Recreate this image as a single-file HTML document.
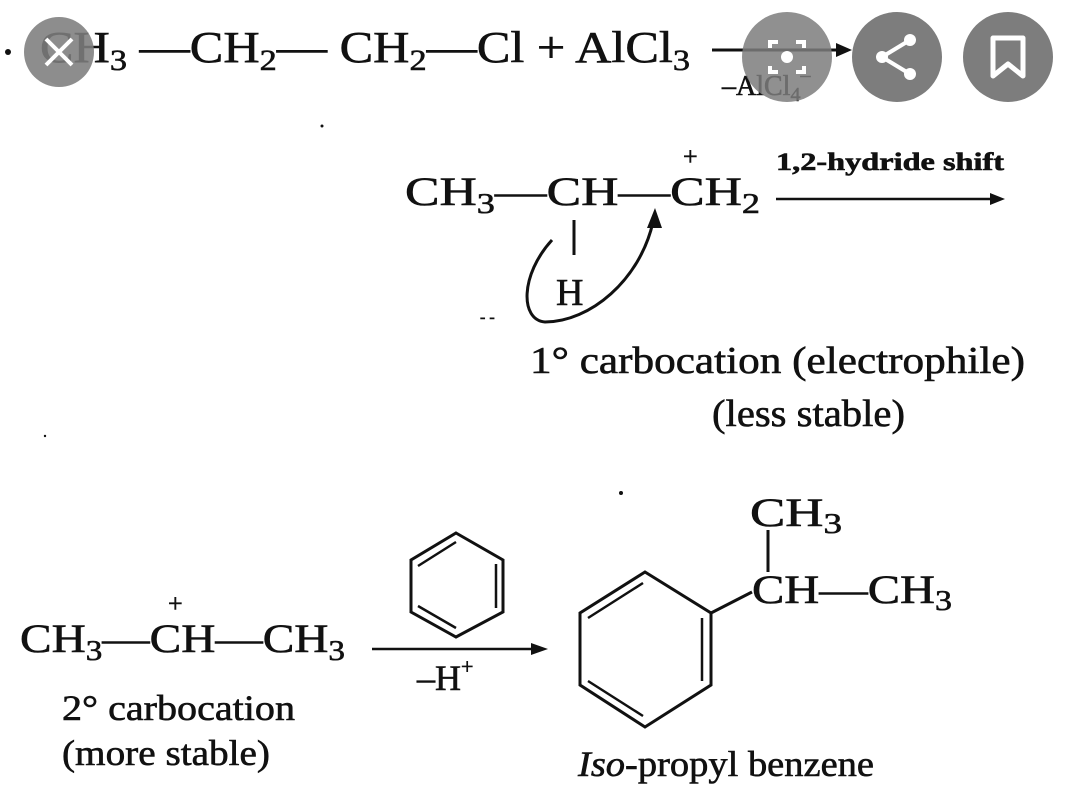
<!DOCTYPE html>
<html><head><meta charset="utf-8"><style>
html,body{margin:0;padding:0;background:#fff;}
svg{display:block}
text{font-family:"Liberation Serif",serif;fill:#111;stroke:#111;stroke-width:0.6;}
</style></head><body>
<svg width="1080" height="795" viewBox="0 0 1080 795" xmlns="http://www.w3.org/2000/svg">
<!-- Line 1 -->
<circle cx="8" cy="52" r="3" fill="#111"/>
<text x="40" y="62" font-size="44" textLength="650" lengthAdjust="spacingAndGlyphs">CH<tspan font-size="30" dy="8">3</tspan><tspan dy="-8"> —CH</tspan><tspan font-size="30" dy="8">2</tspan><tspan dy="-8">— CH</tspan><tspan font-size="30" dy="8">2</tspan><tspan dy="-8">—Cl + AlCl</tspan><tspan font-size="30" dy="8">3</tspan></text>
<line x1="712" y1="50" x2="840" y2="50" stroke="#111" stroke-width="3"/>
<polygon points="852,50 836,43 836,57" fill="#111"/>
<text x="722" y="95" font-size="28">–AlCl<tspan font-size="20" dy="6">4</tspan><tspan font-size="20" dy="-20">–</tspan></text>
<circle cx="59" cy="52" r="35" fill="#7d7d7d" fill-opacity="0.88"/>
<path d="M46 39 L72 65 M72 39 L46 65" stroke="#fff" stroke-width="4"/>
<circle cx="787" cy="57" r="45" fill="#7d7d7d" fill-opacity="0.85"/>
<path d="M770 48 v-6 h8 M796 42 h8 v6 M770 66 v6 h8 M804 66 v6 h-8" stroke="#fff" stroke-width="4" fill="none"/>
<circle cx="787" cy="57" r="6" fill="#fff"/>
<circle cx="897" cy="57" r="45" fill="#7d7d7d"/>
<circle cx="910" cy="40" r="6" fill="#fff"/><circle cx="882" cy="57" r="6" fill="#fff"/><circle cx="910" cy="74" r="6" fill="#fff"/>
<path d="M910 40 L882 57 L910 74" stroke="#fff" stroke-width="4" fill="none"/>
<circle cx="1008" cy="57" r="45" fill="#7d7d7d"/>
<path d="M993 38 h30 v38 l-15 -12 l-15 12 z" stroke="#fff" stroke-width="5" fill="none" stroke-linejoin="round"/>
<circle cx="322" cy="126" r="1.5" fill="#111"/>

<!-- Line 2 -->
<text x="405" y="205" font-size="40" textLength="355" lengthAdjust="spacingAndGlyphs">CH<tspan font-size="28" dy="8">3</tspan><tspan dy="-8">—CH—CH</tspan><tspan font-size="28" dy="8">2</tspan></text>
<text x="683" y="165" font-size="26">+</text>
<text x="776" y="170" font-size="25" font-weight="bold" textLength="228" lengthAdjust="spacingAndGlyphs">1,2-hydride shift</text>
<line x1="776" y1="199" x2="995" y2="199" stroke="#111" stroke-width="2.5"/>
<polygon points="1005,199 990,193 990,205" fill="#111"/>
<line x1="574" y1="220" x2="574" y2="255" stroke="#111" stroke-width="3"/>
<text x="556" y="305" font-size="38">H</text>
<path d="M552 240 C 520 275, 520 320, 545 322 C 590 322, 640 280, 653 222" stroke="#111" stroke-width="3" fill="none"/>
<polygon points="655,208 647,228 662,228" fill="#111"/>
<text x="480" y="322" font-size="16">- -</text>
<text x="530" y="373" font-size="38" textLength="495" lengthAdjust="spacingAndGlyphs">1° carbocation (electrophile)</text>
<text x="712" y="426" font-size="38" textLength="193" lengthAdjust="spacingAndGlyphs">(less stable)</text>
<circle cx="45" cy="436" r="1.2" fill="#111"/>

<!-- Line 3 -->
<text x="20" y="652" font-size="40" textLength="325" lengthAdjust="spacingAndGlyphs">CH<tspan font-size="28" dy="8">3</tspan><tspan dy="-8">—CH—CH</tspan><tspan font-size="28" dy="8">3</tspan></text>
<text x="168" y="612" font-size="26">+</text>
<text x="62" y="720" font-size="36" textLength="233" lengthAdjust="spacingAndGlyphs">2° carbocation</text>
<text x="62" y="765" font-size="36" textLength="208" lengthAdjust="spacingAndGlyphs">(more stable)</text>

<line x1="372" y1="649" x2="535" y2="649" stroke="#111" stroke-width="2.5"/>
<polygon points="548,649 531,643 531,655" fill="#111"/>
<text x="417" y="690" font-size="36">–H<tspan font-size="22" dy="-16">+</tspan></text>
<!-- small benzene -->
<polygon points="456,533 503,560 503,612 456,637 411,612 411,560" fill="none" stroke="#111" stroke-width="3"/>
<path d="M418 566 L456 542 M496 564 L496 608 M418 606 L456 628" stroke="#111" stroke-width="2.5"/>
<circle cx="621" cy="493" r="2" fill="#111"/>

<!-- big benzene -->
<polygon points="645,572 711,613 711,685 645,727 580,685 580,613" fill="none" stroke="#111" stroke-width="3"/>
<path d="M588 618 L643 583 M702 618 L702 681 M588 681 L643 716" stroke="#111" stroke-width="2.5"/>
<line x1="711" y1="613" x2="752" y2="592" stroke="#111" stroke-width="3"/>
<line x1="768" y1="530" x2="768" y2="572" stroke="#111" stroke-width="3"/>
<text x="750" y="526" font-size="40" textLength="92" lengthAdjust="spacingAndGlyphs">CH<tspan font-size="28" dy="7">3</tspan></text>
<text x="752" y="603" font-size="40" textLength="200" lengthAdjust="spacingAndGlyphs">CH—CH<tspan font-size="28" dy="7">3</tspan></text>
<text x="578" y="776" font-size="36" textLength="296" lengthAdjust="spacingAndGlyphs"><tspan font-style="italic">Iso</tspan>-propyl benzene</text>
</svg>
</body></html>
